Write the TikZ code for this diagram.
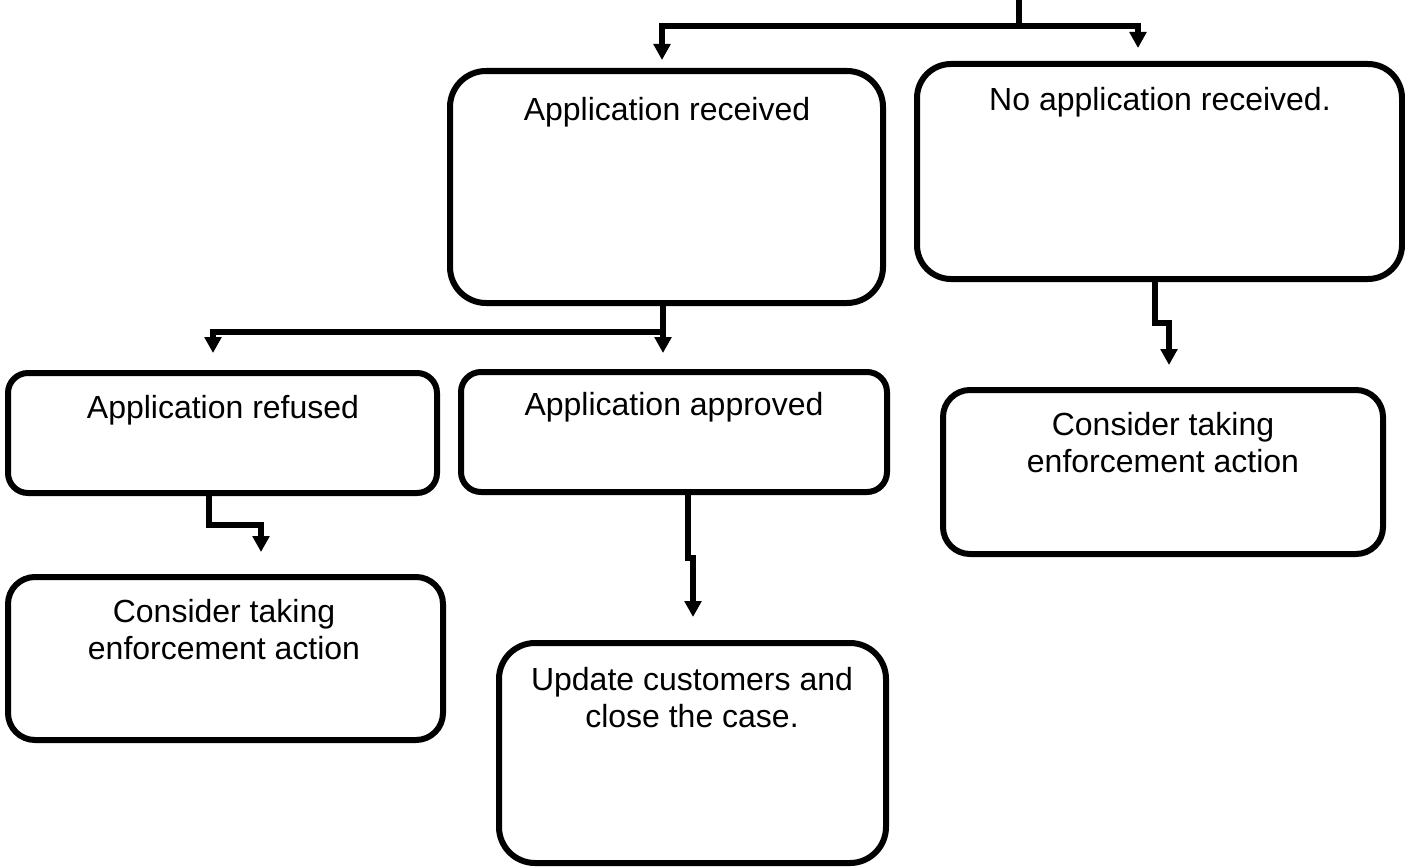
\documentclass[tikz,border=0pt]{standalone}
\usepackage{fontspec}
\setmainfont{Liberation Sans}
\usetikzlibrary{arrows.meta}
\begin{document}
\begin{tikzpicture}[x=1pt,y=-1pt,
  box/.style={draw=black, line width=6pt, rectangle, inner sep=0pt, outer sep=0pt},
  txt/.style={inner sep=0pt, anchor=base, font=\fontsize{32pt}{37pt}\selectfont},
  conn/.style={line width=5.5pt, -{Triangle[width=16.5pt,length=16pt]}},
  plainline/.style={line width=5.5pt}]
\useasboundingbox (0,0) rectangle (1405,867);
% boxes
\node[box, minimum width=433pt, minimum height=232pt, rounded corners=36pt] (b1) at (666.5,187) {};
\node[box, minimum width=485pt, minimum height=215pt, rounded corners=34pt] (b2) at (1159.5,171.5) {};
\node[box, minimum width=429pt, minimum height=120pt, rounded corners=20pt] (b3) at (222.5,433) {};
\node[box, minimum width=426pt, minimum height=120pt, rounded corners=20pt] (b4) at (674,432) {};
\node[box, minimum width=440pt, minimum height=164pt, rounded corners=27pt] (b5) at (1163,472) {};
\node[box, minimum width=435pt, minimum height=163pt, rounded corners=27pt] (b6) at (225.5,658.5) {};
\node[box, minimum width=387pt, minimum height=220pt, rounded corners=36pt] (b7) at (692.5,753) {};
% texts
\node[txt] (t1) at (667,120) {Application received};
\node[txt] (t2) at (1160,110) {No application received.};
\node[txt] (t3) at (223,418) {Application refused};
\node[txt] (t4) at (674,415) {Application approved};
\node[txt] (t5) at (1163,435) {\parbox[t]{420pt}{\centering Consider taking\\enforcement action}};
\node[txt] (t6) at (224,622) {\parbox[t]{420pt}{\centering Consider taking\\enforcement action}};
\node[txt] (t7) at (692,690) {\parbox[t]{380pt}{\centering Update customers and\\close the case.}};
% connectors
\coordinate (src) at (1019,0);
\coordinate (split) at (1019,26);
\draw[plainline] (src) -- (split);
\draw[conn, shorten >=11pt] (split) -| ([xshift=-4.5pt]b1.north);
\draw[conn, shorten >=16pt] (split) -| ([xshift=-21.5pt]b2.north);
\draw[conn, shorten >=19pt] ([xshift=-3.5pt]b1.south) -- ([xshift=-11pt]b4.north);
\draw[conn, shorten >=20pt] ([xshift=-3.5pt]b1.south) -- ++(0,29) -| ([xshift=-9.5pt]b3.north);
\draw[conn, shorten >=25pt] ([xshift=-4.5pt]b2.south) -- ++(0,44) -| ([xshift=6pt]b5.north);
\draw[conn, shorten >=25pt] ([xshift=-13.5pt]b3.south) -- ++(0,32) -| ([xshift=35.5pt]b6.north);
\draw[conn, shorten >=26pt] ([xshift=14pt]b4.south) -- ++(0,66) -| ([xshift=0.5pt]b7.north);
\end{tikzpicture}
\end{document}
